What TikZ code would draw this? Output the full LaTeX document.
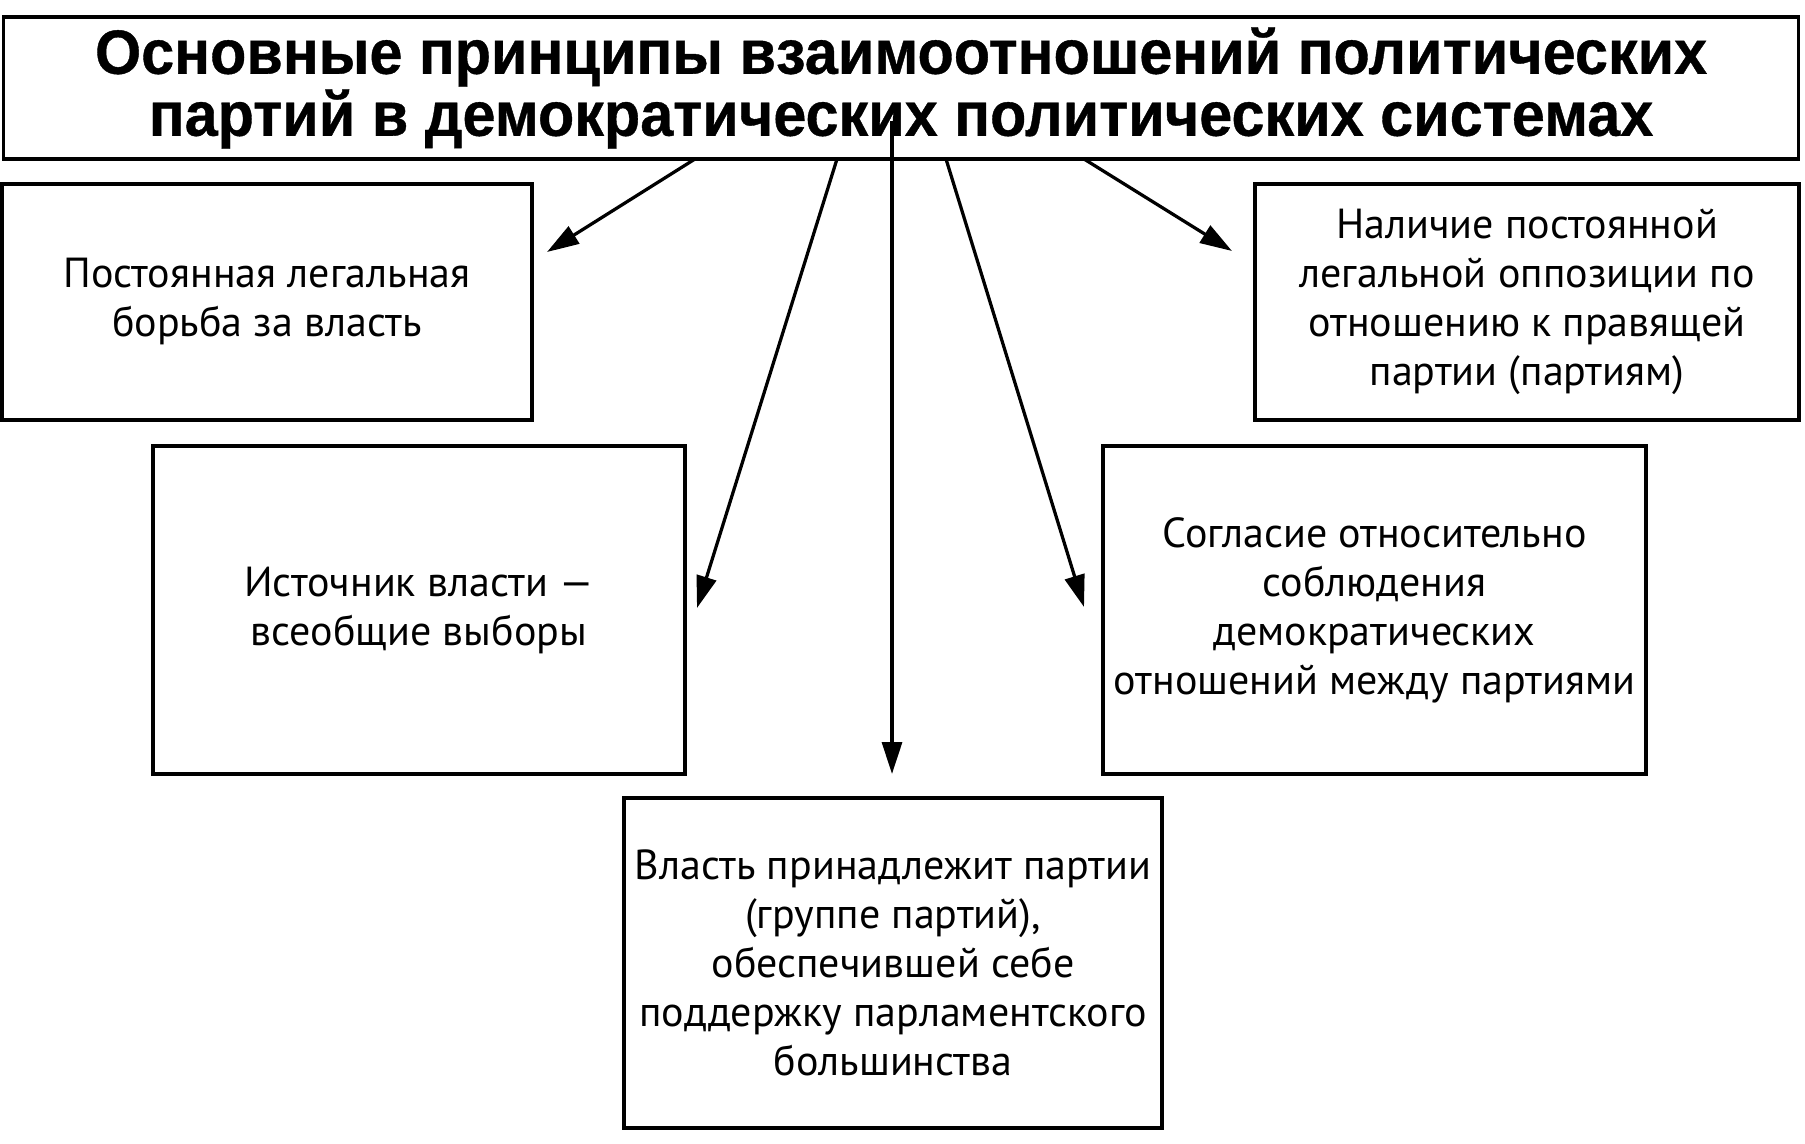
\documentclass[tikz,border=0pt]{standalone}
\usepackage{fontspec}
\setmainfont{PT Sans}
\newfontfamily\titlefont{Liberation Sans}[FakeStretch=0.95,FakeBold=0.6]
\usetikzlibrary{arrows.meta}
\begin{document}
\begin{tikzpicture}[x=0.4pt,y=-0.4pt,
  box/.style={draw, line width=1.3pt, inner sep=0pt, align=center,
    font=\fontsize{16.8}{19.6}\selectfont},
  arr/.style={line width=1.3pt, -{Triangle[length=12.8pt,width=8pt]}}]
\useasboundingbox (0,0) rectangle (1805,1144);
\node[draw, line width=1.3pt, minimum width=1795pt*0.4, minimum height=142pt*0.4, inner sep=0pt, align=center,
  font=\titlefont\bfseries\fontsize{25}{23.6}\selectfont] (title) at (901,88)
  {Основные принципы взаимоотношений политических\\партий в демократических политических системах};
\node[box, minimum width=530*0.4pt, minimum height=236*0.4pt] (a) at (267,302)
  {Постоянная легальная\\борьба за власть};
\node[box, minimum width=544*0.4pt, minimum height=236*0.4pt] (b) at (1527,302)
  {Наличие постоянной\\легальной оппозиции по\\отношению к правящей\\партии (партиям)};
\node[box, minimum width=532*0.4pt, minimum height=328*0.4pt] (c) at (419,610)
  {Источник власти —\\всеобщие выборы};
\node[box, minimum width=543*0.4pt, minimum height=328*0.4pt] (d) at (1374.5,610)
  {Согласие относительно\\соблюдения\\демократических\\отношений между партиями};
\node[box, minimum width=538*0.4pt, minimum height=330*0.4pt] (e) at (893,963)
  {Власть принадлежит партии\\(группе партий),\\обеспечившей себе\\поддержку парламентского\\большинства};
\coordinate (sa) at (695,159);
\coordinate (sc) at (837,159);
\coordinate (se) at (892,121);
\coordinate (sd) at (946,159);
\coordinate (sb) at (1084,159);
\coordinate (ta) at (547,252);
\coordinate (tc) at (697,608);
\coordinate (te) at (892,774);
\coordinate (td) at (1084,607);
\coordinate (tb) at (1232,251);
\draw[arr] (sa) -- (ta);
\draw[arr] (sc) -- (tc);
\draw[arr] (se) -- (te);
\draw[arr] (sd) -- (td);
\draw[arr] (sb) -- (tb);
\end{tikzpicture}
\end{document}
